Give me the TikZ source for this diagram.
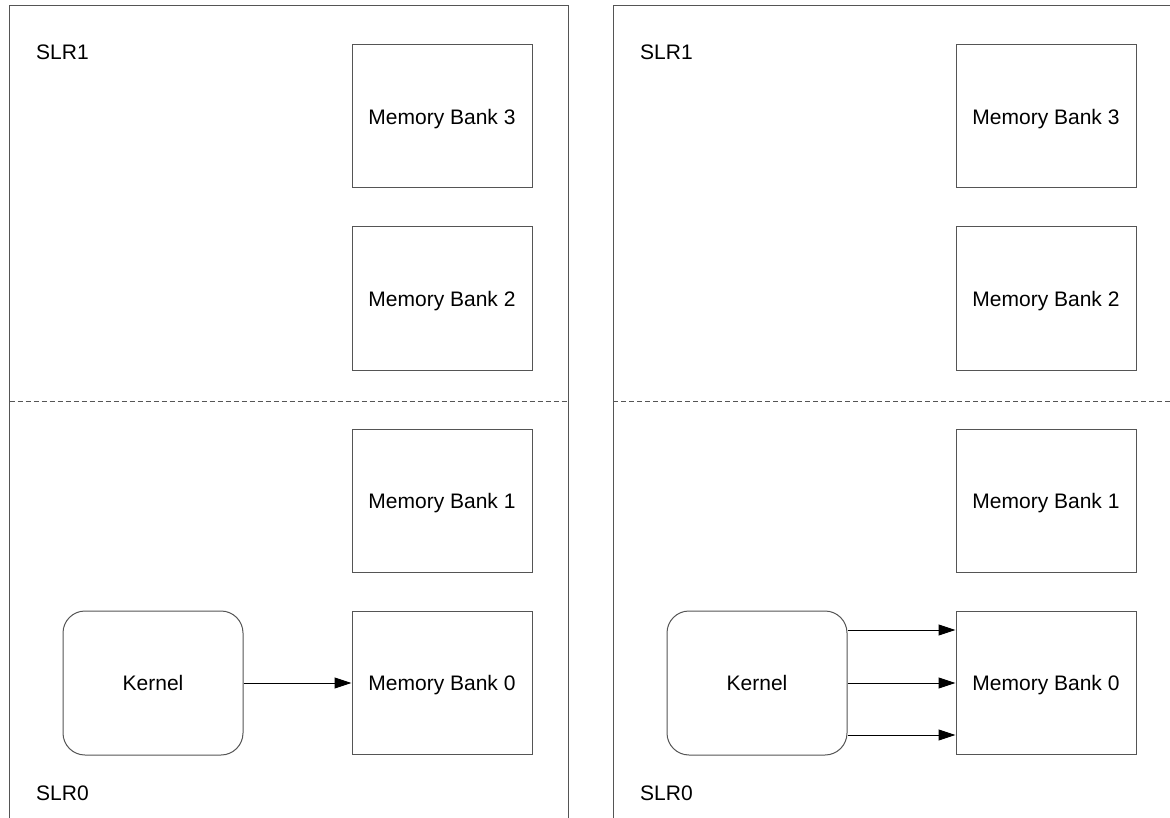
\documentclass[tikz,border=0pt]{standalone}
\usepackage{fontspec}
\setmainfont{Liberation Sans}
\usetikzlibrary{arrows.meta}
\definecolor{edge}{HTML}{555555}
\begin{document}
\begin{tikzpicture}[x=1pt,y=-1pt,
  bank/.style={draw=edge,line width=1pt,minimum width=180pt,minimum height=143pt,inner sep=0pt,text depth=0pt,font=\fontsize{21}{24}\selectfont},
  kern/.style={draw=edge,line width=1pt,rounded corners=22pt,minimum width=180pt,minimum height=144pt,inner sep=0pt,font=\fontsize{21}{24}\selectfont},
  lbl/.style={anchor=west,inner sep=0pt,font=\fontsize{21}{24}\selectfont},
  panel/.style={draw=edge,line width=1pt},
  sep/.style={draw=edge,line width=1pt,dash pattern=on 5pt off 3pt},
  conn/.style={draw=black,line width=1pt,-{Triangle[length=17pt,width=11pt]}}]
\useasboundingbox (0,0) rectangle (1170,818);
% left panel
\draw[panel] (9.5,818) -- (9.5,5.5) -- (568,5.5) -- (568,818);
\draw[sep] (9.5,401) -- (568,401);
\node[lbl] (s1a) at (36,52) {SLR1};
\node[lbl] (s0a) at (36,793) {SLR0};
\node[bank] (m3a) at (442,116.5) {Memory Bank 3};
\node[bank] (m2a) at (442,298.5) {Memory Bank 2};
\node[bank] (m1a) at (442,501) {Memory Bank 1};
\node[bank] (m0a) at (442,683) {Memory Bank 0};
\node[kern] (ka) at (153,683) {Kernel};
\draw[conn] (ka.east) -- (m0a.west);
% right panel
\draw[panel] (613,818) -- (613,5.5) -- (1170,5.5);
\draw[sep] (613,401) -- (1170,401);
\node[lbl] (s1b) at (640,52) {SLR1};
\node[lbl] (s0b) at (640,793) {SLR0};
\node[bank] (m3b) at (1046,116.5) {Memory Bank 3};
\node[bank] (m2b) at (1046,298.5) {Memory Bank 2};
\node[bank] (m1b) at (1046,501) {Memory Bank 1};
\node[bank] (m0b) at (1046,683) {Memory Bank 0};
\node[kern] (kb) at (757,683) {Kernel};
\draw[conn] ([yshift=-52pt]kb.east) -- ([yshift=-52pt]m0b.west);
\draw[conn] (kb.east) -- (m0b.west);
\draw[conn] ([yshift=53pt]kb.east) -- ([yshift=53pt]m0b.west);
\end{tikzpicture}
\end{document}
